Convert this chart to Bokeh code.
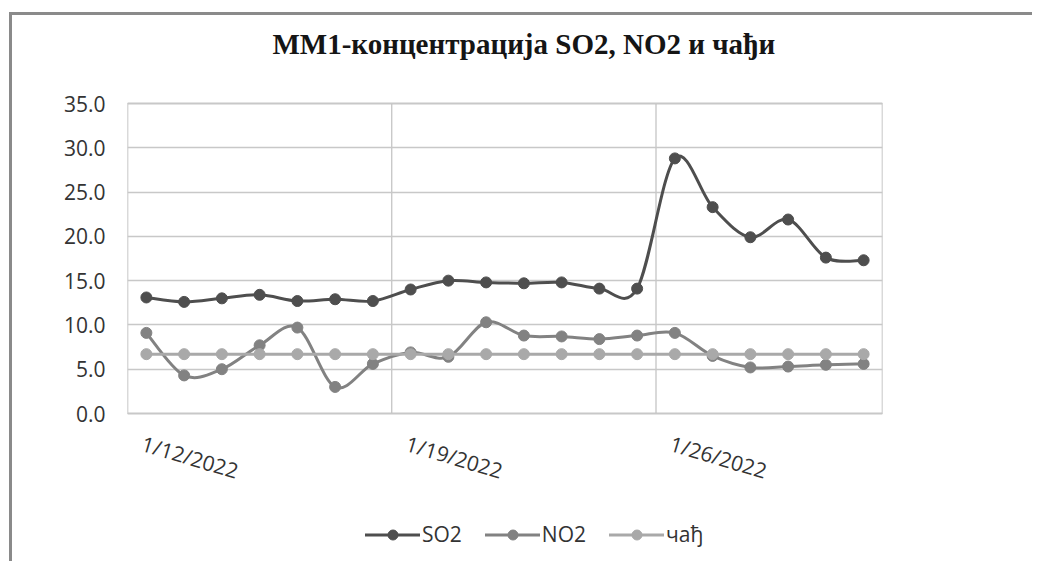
from bokeh.plotting import figure
from bokeh.models import Range1d, FixedTicker, LegendItem, Legend, ColumnDataSource, PrintfTickFormatter
from bokeh.core.properties import value
from bokeh.embed import file_html
from bokeh.resources import INLINE

# ---- data ----
dates = ["1/12/2022", "1/13/2022", "1/14/2022", "1/15/2022", "1/16/2022",
         "1/17/2022", "1/18/2022", "1/19/2022", "1/20/2022", "1/21/2022",
         "1/22/2022", "1/23/2022", "1/24/2022", "1/25/2022", "1/26/2022",
         "1/27/2022", "1/28/2022", "1/29/2022", "1/30/2022", "1/31/2022"]
so2 = [13.1, 12.6, 13.0, 13.4, 12.7, 12.9, 12.7, 14.0, 15.0, 14.8,
       14.7, 14.8, 14.1, 14.1, 28.8, 23.3, 19.9, 21.9, 17.6, 17.3]
no2 = [9.1, 4.3, 5.0, 7.7, 9.7, 3.0, 5.6, 6.9, 6.4, 10.3,
       8.8, 8.7, 8.4, 8.8, 9.1, 6.5, 5.2, 5.3, 5.5, 5.6]
chadj = [6.7, 6.7, 6.7, 6.7, 6.7, 6.7, 6.7, 6.7, 6.7, 6.7,
         6.7, 6.7, 6.7, 6.7, 6.7, 6.7, 6.7, 6.7, 6.7, 6.7]
series_names = ["SO2", "NO2", "чађ"]
title_text = "ММ1-концентрација SO2, NO2 и чађи"
y_ticks = [0, 5, 10, 15, 20, 25, 30, 35]
x_label_idx = [0, 7, 14]          # weekly date labels
week_grid = [6.5, 13.5]           # weekly boundaries between categories

# ---- layout / style ----
colors = ["#4e4e4e", "#828282", "#a9a9a9"]
FRAME_H = 561                      # canvas-tall frame: title, labels, legend live in it
AREA_TOP, AREA_BOT = 103, 413      # pixel rows of the value area (35 and 0)
unit = (AREA_BOT - AREA_TOP) / (y_ticks[-1] - y_ticks[0])
y_lo = y_ticks[0] - (FRAME_H - AREA_BOT) / unit
y_hi = y_ticks[-1] + AREA_TOP / unit
x_lo, x_hi = -0.5, len(dates) - 0.5
TITLE_X, TITLE_Y = 10.0, 41.7      # placement of title (in axis units)
XLAB_Y = -1.8                      # placement of rotated date labels
GRID = "#c8c8c8"

p = figure(frame_width=755, frame_height=FRAME_H, output_backend="svg",
           toolbar_location=None, title=None, x_axis_location=None,
           x_range=Range1d(x_lo, x_hi), y_range=Range1d(y_lo, y_hi),
           min_border_left=127, min_border_right=150, min_border_top=0,
           min_border_bottom=0, background_fill_alpha=0, border_fill_alpha=0)
p.styles = {"box-shadow": "inset 9px 12px 0 0 #ffffff, inset 12px 15px 0 0 #8a8a8a"}
p.outline_line_color = None

# y axis
p.yaxis.ticker = FixedTicker(ticks=y_ticks)
p.yaxis.formatter = PrintfTickFormatter(format="%.1f")
p.yaxis.axis_line_color = None
p.yaxis.major_tick_line_color = None
p.yaxis.minor_tick_line_color = None
p.yaxis.major_label_text_font = "Open Sans"
p.yaxis.major_label_text_font_size = "21px"
p.yaxis.major_label_text_color = "#333333"
p.yaxis.major_label_standoff = 16

p.ygrid.ticker = FixedTicker(ticks=y_ticks)
p.ygrid.grid_line_color = GRID
p.ygrid.grid_line_width = 1.5
p.xgrid.visible = False

# plot-area border and weekly vertical gridlines
p.quad(left=[x_lo], right=[x_hi], bottom=[y_ticks[0]], top=[y_ticks[-1]],
       fill_alpha=0, line_color="#b4b4b4", line_width=1.5, level="underlay")
p.segment(x0=week_grid, y0=[y_ticks[0]] * len(week_grid), x1=week_grid,
          y1=[y_ticks[-1]] * len(week_grid), line_color="#c0c0c0",
          line_width=1.2, level="underlay")

# title
p.text(x=[TITLE_X], y=[TITLE_Y], text=[title_text], text_align="center",
       text_baseline="middle", text_font=value("Liberation Serif"),
       text_font_style="bold", text_font_size="29px", text_color="#151515")

# rotated date labels
p.text(x=x_label_idx, y=[XLAB_Y] * len(x_label_idx),
       text=[dates[i] for i in x_label_idx], angle=-0.29,
       text_align="left", text_baseline="top", text_font=value("Open Sans"),
       text_font_size="21px", text_color="#333333")

# smoothed lines (Excel-style Catmull-Rom bezier through the points)
def bezier_source(vals):
    n = len(vals)
    x0, y0, x1, y1, cx0, cy0, cx1, cy1 = [], [], [], [], [], [], [], []
    for i in range(n - 1):
        im1 = max(i - 1, 0)
        ip2 = min(i + 2, n - 1)
        x0.append(i); y0.append(vals[i])
        x1.append(i + 1); y1.append(vals[i + 1])
        cx0.append(i + (i + 1 - im1) / 6.0)
        cy0.append(vals[i] + (vals[i + 1] - vals[im1]) / 6.0)
        cx1.append(i + 1 - (ip2 - i) / 6.0)
        cy1.append(vals[i + 1] - (vals[ip2] - vals[i]) / 6.0)
    return ColumnDataSource(dict(x0=x0, y0=y0, x1=x1, y1=y1,
                                 cx0=cx0, cy0=cy0, cx1=cx1, cy1=cy1))

items = []
xs = list(range(len(dates)))
for name, vals, col in zip(series_names, [so2, no2, chadj], colors):
    bz = p.bezier(x0="x0", y0="y0", x1="x1", y1="y1", cx0="cx0", cy0="cy0",
                  cx1="cx1", cy1="cy1", source=bezier_source(vals),
                  line_color=col, line_width=3, line_cap="round")
    sc = p.scatter(xs, vals, size=11, fill_color=col, line_color=col, marker="circle")
    items.append(LegendItem(label=name, renderers=[bz, sc]))

legend = Legend(items=items, orientation="horizontal", location=(238, 13),
                background_fill_alpha=0, border_line_color=None,
                label_text_font="Open Sans", label_text_font_size="21px",
                label_text_color="#333333", glyph_width=55, glyph_height=25,
                spacing=23, label_standoff=2, padding=0, margin=0)
p.add_layout(legend)

open("out.html", "w").write(file_html(p, INLINE))
